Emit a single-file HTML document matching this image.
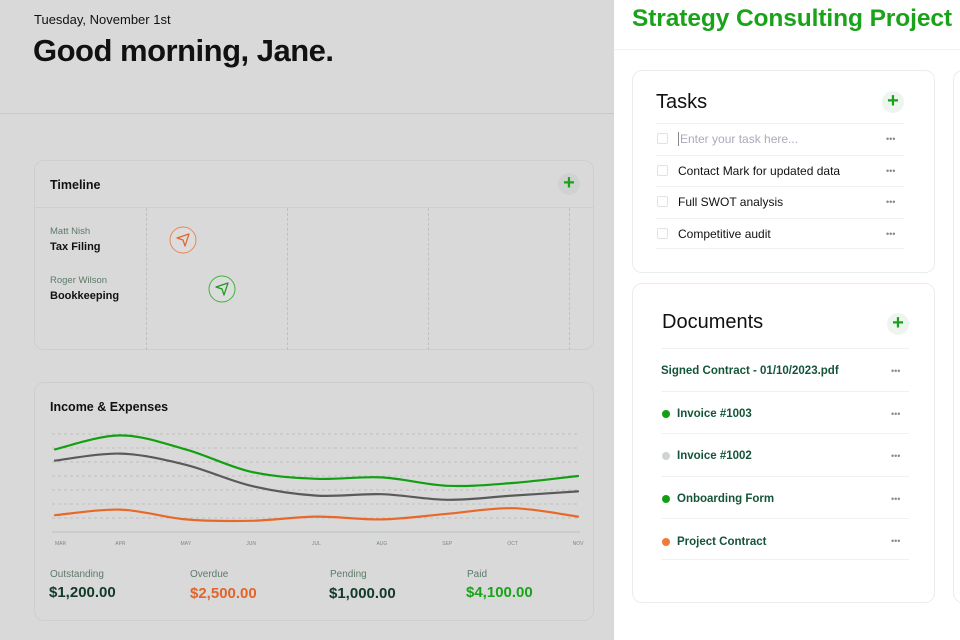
<!DOCTYPE html>
<html><head><meta charset="utf-8">
<style>
*{box-sizing:border-box;margin:0;padding:0}
body{width:960px;height:640px;overflow:hidden;position:relative;background:#fff;font-family:"Liberation Sans",sans-serif;color:#111}
.abs{position:absolute}
#left{left:0;top:0;width:614px;height:640px;background:#d9d9d9}
.card{position:absolute;border:1px solid #cdcfcd;border-radius:10px;background:#d9d9d9}
.rcard{position:absolute;border:1px solid #e8eeec;border-radius:10px;background:#fff}
.plus{position:absolute;width:22px;height:22px;border-radius:50%;color:#1aa31a;font-size:20px;line-height:21px;text-align:center;font-weight:bold}
.dots{position:absolute;color:#888;font-size:9px;letter-spacing:0px}
.task{position:absolute;left:656px;width:248px;height:31px;border-top:1px solid #eef2f0;font-size:12px}
.cb{position:absolute;left:1px;top:9px;width:11px;height:11px;border:1px solid #dfe3e1;border-radius:2px}
.doc{position:absolute;left:661px;width:248px;height:42px;border-top:1px solid #eef2f0;font-size:11.5px;color:#14553a;font-weight:bold}
.dot{position:absolute;left:1px;width:8px;height:8px;border-radius:50%}
</style></head><body>
<div id="left" class="abs">
  <div class="abs" style="left:34px;top:12px;font-size:13px">Tuesday, November 1st</div>
  <div class="abs" style="left:33px;top:33px;font-size:31px;font-weight:bold;letter-spacing:-0.5px">Good morning, Jane.</div>
  <div class="abs" style="left:0;top:113px;width:614px;height:1px;background:#c8cac8"></div>

  <div class="card" style="left:34px;top:160px;width:560px;height:190px">
    <div class="abs" style="left:15px;top:17px;font-size:12.5px;font-weight:bold">Timeline</div>
    <div class="plus" style="left:523px;top:12px;background:#cfd3cf">+</div>
    <div class="abs" style="left:0;top:46px;width:558px;height:1px;background:#cdcfcd"></div>
    <div class="abs" style="left:111px;top:47px;height:142px;border-left:1px dashed #bfc1bf"></div>
    <div class="abs" style="left:252px;top:47px;height:142px;border-left:1px dashed #bfc1bf"></div>
    <div class="abs" style="left:393px;top:47px;height:142px;border-left:1px dashed #bfc1bf"></div>
    <div class="abs" style="left:534px;top:47px;height:142px;border-left:1px dashed #bfc1bf"></div>
    <div class="abs" style="left:15px;top:65px;font-size:9.5px;color:#5e7a6a">Matt Nish</div>
    <div class="abs" style="left:15px;top:80px;font-size:11px;font-weight:bold">Tax Filing</div>
    <div class="abs" style="left:15px;top:114px;font-size:9.5px;color:#5e7a6a">Roger Wilson</div>
    <div class="abs" style="left:15px;top:129px;font-size:11px;font-weight:bold">Bookkeeping</div>
    <svg class="abs" style="left:133px;top:64px" width="30" height="30"><circle cx="15" cy="15" r="13" fill="#dcdcdc" stroke="#e8865a" stroke-width="1"/><path d="M9 13 L21 9 L17 21 L15 15 Z" fill="none" stroke="#e2642a" stroke-width="1.2" stroke-linejoin="round"/></svg>
    <svg class="abs" style="left:172px;top:113px" width="30" height="30"><circle cx="15" cy="15" r="13" fill="#dcdcdc" stroke="#3cb43c" stroke-width="1"/><path d="M9 13 L21 9 L17 21 L15 15 Z" fill="none" stroke="#1a9a1a" stroke-width="1.2" stroke-linejoin="round"/></svg>
  </div>

  <div class="card" style="left:34px;top:382px;width:560px;height:239px">
    <div class="abs" style="left:15px;top:17px;font-size:12.5px;font-weight:bold">Income &amp; Expenses</div>
  </div>
  <svg id="chart" class="abs" style="left:0;top:0" width="614" height="560"></svg>

  <div class="abs" style="left:50px;top:569px;font-size:10px;color:#5e7a6a">Outstanding</div>
  <div class="abs" style="left:49px;top:584px;font-size:15px;font-weight:bold;color:#123a28">$1,200.00</div>
  <div class="abs" style="left:190px;top:569px;font-size:10px;color:#5e7a6a">Overdue</div>
  <div class="abs" style="left:190px;top:585px;font-size:15px;font-weight:bold;color:#e2642a">$2,500.00</div>
  <div class="abs" style="left:330px;top:569px;font-size:10px;color:#5e7a6a">Pending</div>
  <div class="abs" style="left:329px;top:585px;font-size:15px;font-weight:bold;color:#123a28">$1,000.00</div>
  <div class="abs" style="left:467px;top:569px;font-size:10px;color:#5e7a6a">Paid</div>
  <div class="abs" style="left:466px;top:584px;font-size:15px;font-weight:bold;color:#1aa31a">$4,100.00</div>
</div>

<div class="abs" style="left:632px;top:5px;font-size:24.5px;font-weight:bold;color:#1aa31a;letter-spacing:-0.1px">Strategy Consulting Project</div>
<div class="abs" style="left:614px;top:49px;width:346px;height:1px;background:#eef2f0"></div>

<div class="rcard" style="left:632px;top:70px;width:303px;height:203px"></div>
<div class="abs" style="left:656px;top:91px;font-size:20px">Tasks</div>
<div class="plus" style="left:882px;top:91px;background:#eef5ef">+</div>
<div class="task" style="top:123px"><div class="cb"></div><span class="abs" style="left:22px;top:8px;color:#aab;border-left:1px solid #888;padding-left:1px">Enter your task here...</span><span class="dots" style="left:230px;top:10px">•••</span></div>
<div class="task" style="top:155px"><div class="cb"></div><span class="abs" style="left:22px;top:8px">Contact Mark for updated data</span><span class="dots" style="left:230px;top:10px">•••</span></div>
<div class="task" style="top:186px"><div class="cb"></div><span class="abs" style="left:22px;top:8px">Full SWOT analysis</span><span class="dots" style="left:230px;top:10px">•••</span></div>
<div class="task" style="top:218px;border-bottom:1px solid #eef2f0"><div class="cb"></div><span class="abs" style="left:22px;top:8px">Competitive audit</span><span class="dots" style="left:230px;top:10px">•••</span></div>

<div class="rcard" style="left:632px;top:283px;width:303px;height:320px"></div>
<div class="abs" style="left:662px;top:311px;font-size:20px">Documents</div>
<div class="plus" style="left:887px;top:313px;background:#eef5ef">+</div>
<div class="doc" style="top:348px"><span class="abs" style="left:0;top:16px">Signed Contract - 01/10/2023.pdf</span><span class="dots" style="left:230px;top:17px;font-weight:normal">•••</span></div>
<div class="doc" style="top:391px"><div class="dot" style="top:18px;background:#12a012"></div><span class="abs" style="left:16px;top:16px">Invoice #1003</span><span class="dots" style="left:230px;top:17px;font-weight:normal">•••</span></div>
<div class="doc" style="top:433px"><div class="dot" style="top:18px;background:#cfd3d3"></div><span class="abs" style="left:16px;top:16px">Invoice #1002</span><span class="dots" style="left:230px;top:17px;font-weight:normal">•••</span></div>
<div class="doc" style="top:476px"><div class="dot" style="top:18px;background:#12a012"></div><span class="abs" style="left:16px;top:16px">Onboarding Form</span><span class="dots" style="left:230px;top:17px;font-weight:normal">•••</span></div>
<div class="doc" style="top:518px;border-bottom:1px solid #eef2f0"><div class="dot" style="top:19px;background:#f07a3a"></div><span class="abs" style="left:16px;top:17px">Project Contract</span><span class="dots" style="left:230px;top:17px;font-weight:normal">•••</span></div>
<div class="rcard" style="left:953px;top:70px;width:40px;height:533px"></div>

<script>
const months = ["MAR","APR","MAY","JUN","JUL","AUG","SEP","OCT","NOV"];
const income = [59,69,59,43,38,39,33,35,40];
const net = [51,56,48,33,26,27,23,26,29];
const expenses = [12,16,9,8,11,9,13,17,11];
const gridTicks = [10,20,30,40,50,60,70];

const svg = document.getElementById('chart');
const NS = 'http://www.w3.org/2000/svg';
const x0 = 55, x1 = 578, yBase = 532, yTop = 434, vMax = 70;
const xs = i => x0 + i * (x1 - x0) / (months.length - 1);
const ys = v => yBase - v * (yBase - yTop) / vMax;

gridTicks.forEach(t => {
  const l = document.createElementNS(NS, 'line');
  
  
  l.setAttribute('x1', 52); l.setAttribute('x2', 580);
  l.setAttribute('y1', ys(t)); l.setAttribute('y2', ys(t));
  l.setAttribute('stroke', '#bdbfbd'); l.setAttribute('stroke-dasharray', '3 3');
  svg.appendChild(l);
});
const base = document.createElementNS(NS, 'line');


base.setAttribute('x1', 52); base.setAttribute('x2', 580);
base.setAttribute('y1', yBase); base.setAttribute('y2', yBase);
base.setAttribute('stroke', '#b8c0bc');
svg.appendChild(base);

months.forEach((m, i) => {
  const t = document.createElementNS(NS, 'text');
  
  
  t.setAttribute('x', xs(i)); t.setAttribute('y', 545);
  t.setAttribute('font-size', '5'); t.setAttribute('fill', '#7a8a82');
  t.setAttribute('text-anchor', i === 0 ? 'start' : 'middle');
  t.textContent = m;
  svg.appendChild(t);
});

function smooth(vals) {
  const p = vals.map((v, i) => [xs(i), ys(v)]);
  let d = `M${p[0][0]},${p[0][1]}`;
  for (let i = 0; i < p.length - 1; i++) {
    const a = p[i - 1] || p[i], b = p[i], c = p[i + 1], e = p[i + 2] || c;
    const c1 = [b[0] + (c[0] - a[0]) / 6, b[1] + (c[1] - a[1]) / 6];
    const c2 = [c[0] - (e[0] - b[0]) / 6, c[1] - (e[1] - b[1]) / 6];
    d += ` C${c1[0]},${c1[1]} ${c2[0]},${c2[1]} ${c[0]},${c[1]}`;
  }
  return d;
}
function line(vals, color, name) {
  const p = document.createElementNS(NS, 'path');
  
  
  p.setAttribute('d', smooth(vals));
  p.setAttribute('fill', 'none'); p.setAttribute('stroke', color);
  p.setAttribute('stroke-width', '2.2'); p.setAttribute('stroke-linecap', 'round');
  svg.appendChild(p);
}
line(income, '#12a012', 'income-line');
line(net, '#5a5a5a', 'net-line');
line(expenses, '#e8682a', 'expenses-line');
</script>
</body></html>
